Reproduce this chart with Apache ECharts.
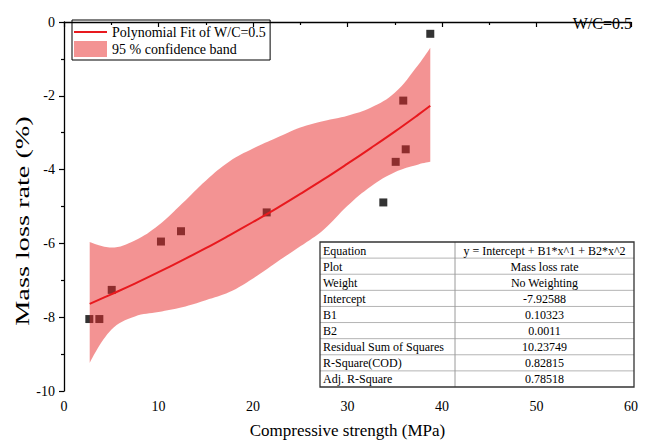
<!DOCTYPE html>
<html>
<head>
<meta charset="utf-8">
<script src="https://cdn.jsdelivr.net/npm/echarts@6/dist/echarts.min.js"></script>
<style>
html,body{margin:0;padding:0;background:#fff;}
#c{width:649px;height:444px;}
</style>
</head>
<body>
<div id="c"></div>
<script>
// ---- data ----
const pointX = [2.68, 3.74, 5.05, 10.26, 12.38, 21.45, 33.79, 35.10, 35.90, 36.16, 38.76];
const pointY = [-8.05, -8.05, -7.26, -5.95, -5.67, -5.16, -4.89, -3.79, -2.13, -3.45, -0.32];

const curveX    = [2.72, 5, 7.5, 10, 12.5, 15, 17.5, 20, 22.5, 25, 27.5, 30, 32.5, 35, 37.5, 38.76];
const fitY      = [-7.64, -7.38, -7.09, -6.78, -6.46, -6.13, -5.78, -5.42, -5.05, -4.66, -4.26, -3.84, -3.41, -2.97, -2.51, -2.27];
const bandUpper = [-5.96, -6.11, -5.92, -5.51, -4.92, -4.30, -3.78, -3.43, -3.14, -2.86, -2.68, -2.54, -2.32, -1.92, -1.16, -0.70];
const bandLower = [-9.24, -8.34, -7.98, -7.86, -7.73, -7.54, -7.32, -6.95, -6.51, -6.08, -5.62, -4.98, -4.45, -4.07, -3.86, -3.79];

const tableLabels = ['Equation', 'Plot', 'Weight', 'Intercept', 'B1', 'B2', 'Residual Sum of Squares', 'R-Square(COD)', 'Adj. R-Square'];
const tableValues = ['y = Intercept + B1*x^1 + B2*x^2', 'Mass loss rate', 'No Weighting', '-7.92588', '0.10323', '0.0011', '10.23749', '0.82815', '0.78518'];

const fitName = 'Polynomial Fit of W/C=0.5';
const bandName = '95 % confidence band';
const titleText = 'W/C=0.5';
const xName = 'Compressive strength (MPa)';
const yName = 'Mass loss rate (%)';

// ---- build ----
const FONT = 'Liberation Serif';
const points = pointX.map((x, i) => [x, pointY[i]]);
const fitData = curveX.map((x, i) => [x, fitY[i]]);
// band stacked along y: column 0 = y value, column 1 = x value
const lowerData = curveX.map((x, i) => [bandLower[i], x]);
const diffData = curveX.map((x, i) => [+(bandUpper[i] - bandLower[i]).toFixed(3), x]);

const chart = echarts.init(document.getElementById('c'), null, {renderer: 'svg'});

// table graphic
const T = {left: 320, top: 242, width: 314, height: 145, col: 455};
const rowH = T.height / tableLabels.length;
const gfx = [];
for (let i = 1; i < tableLabels.length; i++) {
  gfx.push({type: 'line', shape: {x1: T.left, y1: T.top + i * rowH, x2: T.left + T.width, y2: T.top + i * rowH},
    style: {stroke: '#b4b4b4', lineWidth: 1}, silent: true});
}
gfx.push({type: 'line', shape: {x1: T.col, y1: T.top, x2: T.col, y2: T.top + T.height},
  style: {stroke: '#9a9a9a', lineWidth: 1}, silent: true});
tableLabels.forEach((t, i) => {
  gfx.push({type: 'text', x: T.left + 3, y: T.top + i * rowH + rowH / 2 + 0.5,
    style: {text: t, fontFamily: FONT, fontSize: 12, fill: '#000', align: 'left', verticalAlign: 'middle'}, silent: true});
});
tableValues.forEach((t, i) => {
  gfx.push({type: 'text', x: (T.col + T.left + T.width) / 2, y: T.top + i * rowH + rowH / 2 + 0.5,
    style: {text: t, fontFamily: FONT, fontSize: 12, fill: '#000', align: 'center', verticalAlign: 'middle'}, silent: true});
});
gfx.push({type: 'rect', shape: {x: T.left, y: T.top, width: T.width, height: T.height},
  style: {fill: 'rgba(0,0,0,0)', stroke: '#333', lineWidth: 1.3}, silent: true});

// y-axis title (drawn stretched along its length as in the reference)
gfx.push({type: 'text', x: 23, y: 221, rotation: Math.PI / 2, scaleX: 1.57,
  style: {text: yName, fontFamily: FONT, fontSize: 18, fill: '#000', align: 'center', verticalAlign: 'middle'}, silent: true});

const bandColor = 'rgba(232,40,40,0.5)';
const lineIcon = 'path://M0,0L0.01,0L0,0.01Z M0,7H33V9H0Z M33,16L32.99,16L33,15.99Z';

chart.setOption({
  animation: false,
  backgroundColor: '#fff',
  title: {text: titleText, right: 12, top: 10, textStyle: {fontFamily: FONT, fontSize: 16, fontWeight: 'normal', color: '#000'}},
  legend: {
    orient: 'vertical', left: 72, top: 20,
    itemWidth: 33, itemHeight: 16, itemGap: 1,
    padding: [4, 4, 3, 2],
    borderColor: '#000', borderWidth: 1,
    textStyle: {fontFamily: FONT, fontSize: 14, color: '#000'},
    selectedMode: false,
    data: [{name: fitName, icon: lineIcon}, {name: bandName, icon: 'rect'}]
  },
  grid: {left: 64, right: 18, top: 22, bottom: 52, containLabel: false},
  xAxis: {
    type: 'value', min: 0, max: 60, interval: 10,
    name: xName, nameLocation: 'middle', nameGap: 31,
    nameTextStyle: {fontFamily: FONT, fontSize: 17, color: '#000'},
    axisLine: {show: true, lineStyle: {color: '#000', width: 1.3}},
    axisTick: {show: true, length: 5, lineStyle: {color: '#000', width: 1.2}},
    minorTick: {show: true, splitNumber: 2, length: 3, lineStyle: {color: '#000', width: 1.2}},
    axisLabel: {fontFamily: FONT, fontSize: 14, color: '#000', margin: 8},
    splitLine: {show: false}
  },
  yAxis: {
    type: 'value', min: -10, max: 0, interval: 2,
    axisLine: {show: true, lineStyle: {color: '#000', width: 1.3}},
    axisTick: {show: true, length: 5, lineStyle: {color: '#000', width: 1.2}},
    minorTick: {show: true, splitNumber: 2, length: 3, lineStyle: {color: '#000', width: 1.2}},
    axisLabel: {fontFamily: FONT, fontSize: 14, color: '#000', margin: 9},
    splitLine: {show: false}
  },
  series: [
    {
      name: 'Mass loss rate', type: 'scatter', data: points, symbol: 'rect', symbolSize: 8,
      itemStyle: {color: '#000'}, z: 2, emphasis: {disabled: true}
    },
    {
      name: 'bandLower', type: 'line', data: lowerData, encode: {x: 1, y: 0},
      stack: 'band', stackStrategy: 'all',
      smooth: 0.4, symbol: 'none', lineStyle: {opacity: 0}, z: 3,
      emphasis: {disabled: true}, silent: true
    },
    {
      name: bandName, type: 'line', data: diffData, encode: {x: 1, y: 0},
      stack: 'band', stackStrategy: 'all',
      smooth: 0.4, symbol: 'none', lineStyle: {opacity: 0},
      itemStyle: {color: bandColor}, areaStyle: {color: bandColor, opacity: 1}, z: 3,
      emphasis: {disabled: true}, silent: true
    },
    {
      name: fitName, type: 'line', data: fitData, smooth: 0.4, symbol: 'none',
      lineStyle: {color: '#e8191e', width: 2}, itemStyle: {color: '#e8191e'}, z: 4,
      emphasis: {disabled: true}
    }
  ],
  graphic: gfx
});
</script>
</body>
</html>
